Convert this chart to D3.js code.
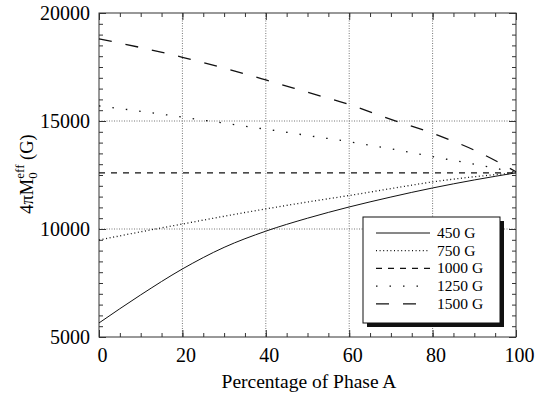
<!DOCTYPE html>
<html>
<head>
<meta charset="utf-8">
<script src="https://cdn.jsdelivr.net/npm/d3@7"></script>
<style>
  body { margin: 0; background: #fff; }
</style>
</head>
<body>
<div id="chart"></div>
<script>
// Set SVG area
var svgWidth = 536;
var svgHeight = 400;

var margin = { top: 13, right: 20, bottom: 63, left: 99 };
var width = svgWidth - margin.left - margin.right;
var height = svgHeight - margin.top - margin.bottom;

var serif = "Liberation Serif, Times New Roman, Times, serif";

// Data
var phaseA = [0, 10, 20, 30, 40, 50, 60, 70, 80, 90, 100];
var g450 = [5650, 6950, 8150, 9150, 9900, 10500, 11020, 11480, 11900, 12270, 12600];
var g750 = [9490, 9870, 10230, 10590, 10930, 11250, 11550, 11870, 12180, 12420, 12600];
var g1000 = [12600, 12600, 12600, 12600, 12600, 12600, 12600, 12600, 12600, 12600, 12600];
var g1250 = [15700, 15450, 15180, 14900, 14620, 14330, 14040, 13710, 13350, 13000, 12620];
var g1500 = [18800, 18400, 17950, 17450, 16900, 16330, 15760, 15070, 14430, 13650, 12650];

var seriesNames = ["450 G", "750 G", "1000 G", "1250 G", "1500 G"];
var seriesValues = [g450, g750, g1000, g1250, g1500];
var dashes = ["none", "1,2.6", "6,6", "1.5,12", "13,14"];

var xTicks = [0, 20, 40, 60, 80, 100];
var yTicks = [5000, 10000, 15000, 20000];

var svg = d3.select("#chart")
  .append("svg")
  .attr("width", svgWidth)
  .attr("height", svgHeight)
  .attr("font-family", serif);

var chartGroup = svg.append("g")
  .attr("transform", `translate(${margin.left}, ${margin.top})`);

// scales
var xScale = d3.scaleLinear().domain([0, 100]).range([0, width]);
var yScale = d3.scaleLinear().domain([5000, 20000]).range([height, 0]);

// grid lines (dotted)
chartGroup.selectAll(".gridX")
  .data(xTicks.slice(1, -1))
  .enter()
  .append("line")
  .attr("x1", d => xScale(d))
  .attr("x2", d => xScale(d))
  .attr("y1", 0)
  .attr("y2", height)
  .attr("stroke", "#777")
  .attr("stroke-width", 1)
  .attr("stroke-dasharray", "1,1.5");

chartGroup.selectAll(".gridY")
  .data(yTicks.slice(1, -1))
  .enter()
  .append("line")
  .attr("x1", 0)
  .attr("x2", width)
  .attr("y1", d => yScale(d))
  .attr("y2", d => yScale(d))
  .attr("stroke", "#777")
  .attr("stroke-width", 1)
  .attr("stroke-dasharray", "1,1.5");

// inward ticks on all four sides (major + minor)
function addTicks(axisFn, scale, values, size, transform) {
  var g = chartGroup.append("g")
    .attr("transform", transform)
    .call(axisFn(scale).tickValues(values).tickSize(-size).tickFormat(""));
  g.select(".domain").remove();
  g.selectAll("line").attr("stroke", "#333");
  return g;
}

var xMinor = d3.range(0, 101, 5);
var yMinor = d3.range(5000, 20001, 500);
addTicks(d3.axisBottom, xScale, xMinor, 4, `translate(0, ${height})`);
addTicks(d3.axisBottom, xScale, xTicks, 7, `translate(0, ${height})`);
addTicks(d3.axisTop, xScale, xMinor, 4, "translate(0, 0)");
addTicks(d3.axisTop, xScale, xTicks, 7, "translate(0, 0)");
addTicks(d3.axisLeft, yScale, yMinor, 4, "translate(0, 0)");
addTicks(d3.axisLeft, yScale, yTicks, 7, "translate(0, 0)");
addTicks(d3.axisRight, yScale, yMinor, 4, `translate(${width}, 0)`);
addTicks(d3.axisRight, yScale, yTicks, 7, `translate(${width}, 0)`);

// frame
chartGroup.append("rect")
  .attr("width", width)
  .attr("height", height)
  .attr("fill", "none")
  .attr("stroke", "#333")
  .attr("stroke-width", 1);

// tick labels
var xAxis = chartGroup.append("g")
  .attr("transform", `translate(0, ${height})`)
  .call(d3.axisBottom(xScale).tickValues(xTicks).tickSize(0).tickFormat(d3.format("d")));
xAxis.select(".domain").remove();
xAxis.attr("font-family", serif).attr("font-size", 20);
xAxis.selectAll("text")
  .attr("y", 25)
  .attr("dy", null)
  .attr("dx", 3)
  .attr("fill", "#000");

var yAxis = chartGroup.append("g")
  .call(d3.axisLeft(yScale).tickValues(yTicks).tickSize(0).tickPadding(9).tickFormat(d3.format("d")));
yAxis.select(".domain").remove();
yAxis.attr("font-family", serif).attr("font-size", 20);
yAxis.selectAll("text")
  .attr("fill", "#000");

// curves
var lineFunction = d3.line()
  .x((d, i) => xScale(phaseA[i]))
  .y(d => yScale(d))
  .curve(d3.curveMonotoneX);

seriesValues.forEach(function (values, i) {
  chartGroup.append("path")
    .attr("d", lineFunction(values))
    .attr("fill", "none")
    .attr("stroke", "#111")
    .attr("stroke-width", i === 0 ? 1 : 1.3)
    .attr("stroke-dasharray", dashes[i]);
});

// axis titles
svg.append("text")
  .attr("x", 309)
  .attr("y", 388)
  .attr("text-anchor", "middle")
  .attr("font-size", 19.5)
  .attr("fill", "#000")
  .text("Percentage of Phase A");

var yTitle = svg.append("text")
  .attr("transform", "translate(33, 174) rotate(-90)")
  .attr("text-anchor", "middle")
  .attr("font-size", 18.5)
  .attr("fill", "#000");
yTitle.append("tspan").text("4\u03c0M");
yTitle.append("tspan").attr("dy", 4).attr("font-size", 13).text("0");
yTitle.append("tspan").attr("dx", -6.5).attr("dy", -13).attr("font-size", 13).text("eff");
yTitle.append("tspan").attr("dy", 9).text(" (G)");

// legend with drop shadow
var legend = svg.append("g")
  .attr("transform", "translate(363, 217)");
var legW = 137, legH = 106;

legend.append("rect")
  .attr("x", 4)
  .attr("y", 4)
  .attr("width", legW)
  .attr("height", legH)
  .attr("fill", "#111");
legend.append("rect")
  .attr("width", legW)
  .attr("height", legH)
  .attr("fill", "#fff")
  .attr("stroke", "#111")
  .attr("stroke-width", 1);

seriesNames.forEach(function (name, i) {
  var yy = 16 + i * 17.7;
  legend.append("line")
    .attr("x1", 13)
    .attr("x2", 67)
    .attr("y1", yy)
    .attr("y2", yy)
    .attr("stroke", "#111")
    .attr("stroke-width", i === 0 ? 1 : 1.3)
    .attr("stroke-dasharray", dashes[i]);
  legend.append("text")
    .attr("x", 74)
    .attr("y", yy + 5)
    .attr("font-size", 15.5)
    .attr("fill", "#000")
    .text(name);
});
</script>
</body>
</html>
